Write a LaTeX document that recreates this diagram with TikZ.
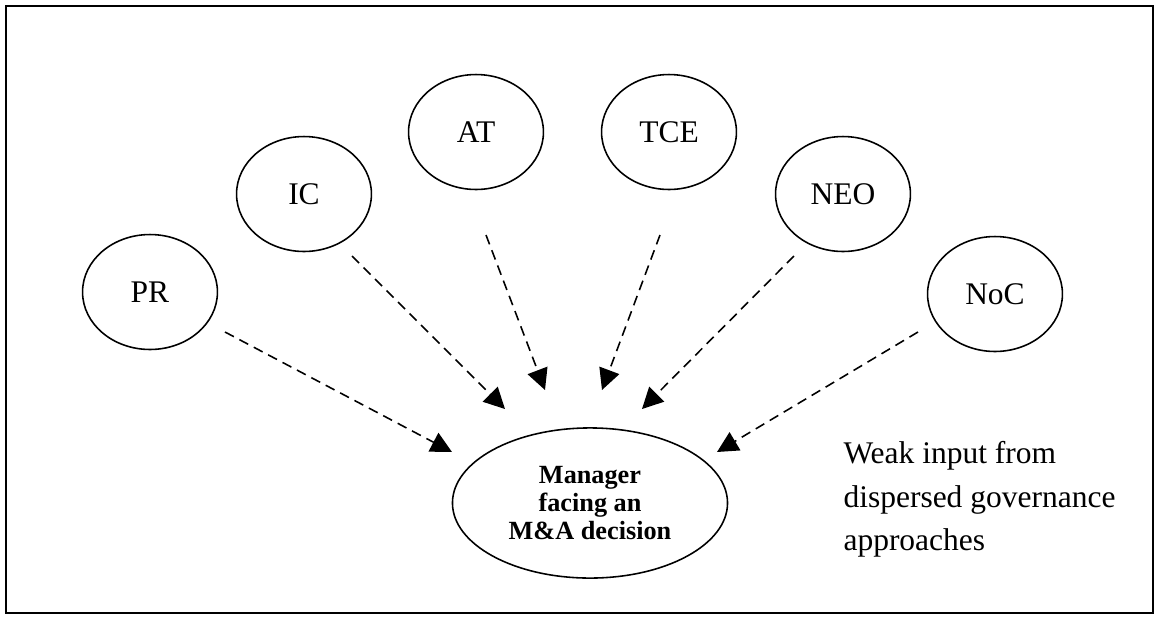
\documentclass[tikz,border=0pt]{standalone}
\usepackage{fontspec}
\setmainfont{Liberation Serif}
\usetikzlibrary{shapes.geometric,arrows.meta}

\begin{document}
\begin{tikzpicture}[x=0.381pt,y=-0.381pt]
                \tikzstyle{theory}=[ellipse, draw=black, line width=0.6pt, minimum width=51.4pt, minimum height=43.8pt, inner sep=0pt, font=\fontsize{12}{14}\selectfont]
                \tikzstyle{manager}=[ellipse, draw=black, line width=0.6pt, minimum width=104.8pt, minimum height=57.2pt, inner sep=0pt, align=center, font=\fontsize{10}{10.8}\selectfont\bfseries]
                \tikzstyle{connect}=[-{Triangle[length=8pt,width=8pt]}, dash pattern=on 3.8pt off 2.4pt, line width=0.6pt]
                \useasboundingbox (0,0) rectangle (1158,617);
                \draw[line width=0.8pt] (6,6) rectangle (1153,613);
                \node[theory] (pr) at (150,292){PR};
                \node[theory] (ic) at (304,194){IC};
                \node[theory] (at) at (476,132){AT};
                \node[theory] (tce) at (669,132){TCE};
                \node[theory] (neo) at (843,194){NEO};
                \node[theory] (noc) at (995,294){NoC};
                \node[manager] (mgr) at (590,503){Manager\\facing an\\M\&A decision};
                \node[anchor=north west, inner sep=0pt, align=left, font=\fontsize{12}{16.6}\selectfont] (weak) at (843,441){Weak input from\\dispersed governance\\approaches};
                \coordinate (pr-out) at (225,332);
                \coordinate (ic-out) at (352,256);
                \coordinate (at-out) at (486,235);
                \coordinate (tce-out) at (660,235);
                \coordinate (neo-out) at (794,256);
                \coordinate (noc-out) at (918,332);
                \coordinate (mgr-pr) at (452,452);
                \coordinate (mgr-ic) at (505,409);
                \coordinate (mgr-at) at (545,390);
                \coordinate (mgr-tce) at (602,390);
                \coordinate (mgr-neo) at (642,409);
                \coordinate (mgr-noc) at (717,452);
                \path (pr-out) edge [connect] (mgr-pr);
                \path (ic-out) edge [connect] (mgr-ic);
                \path (at-out) edge [connect] (mgr-at);
                \path (tce-out) edge [connect] (mgr-tce);
                \path (neo-out) edge [connect] (mgr-neo);
                \path (noc-out) edge [connect] (mgr-noc);

    \end{tikzpicture}
\end{document}
